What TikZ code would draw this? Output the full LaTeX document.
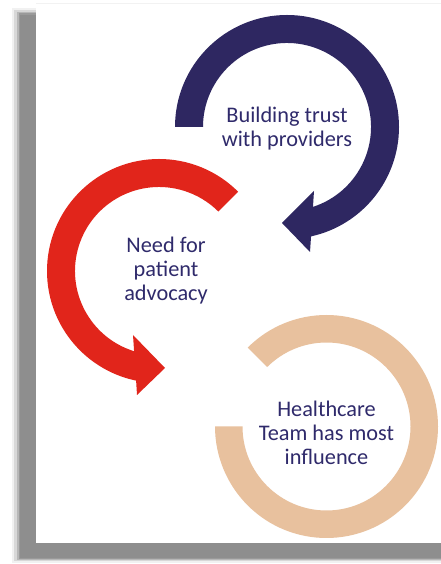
\documentclass[tikz,border=0pt]{standalone}
\usepackage{fontspec}
\setmainfont{Carlito}
\definecolor{arcblue}{HTML}{2E2761}
\definecolor{arcred}{HTML}{E1251B}
\definecolor{arctan}{HTML}{E8C19E}
\definecolor{labelc}{HTML}{2F2A6B}
\definecolor{shadowc}{HTML}{8E8E8E}
\begin{document}
\begin{tikzpicture}[x=1pt,y=1pt,
  label/.style={align=center,inner sep=0pt,anchor=base,text=labelc,
    font=\fontsize{22.3}{24.2}\selectfont}]
\useasboundingbox (0,0) rectangle (441,564);
% shadow with soft edges
\fill[shadowc,opacity=0.12] (12,1) rectangle (441,556);
\fill[shadowc,opacity=0.25] (14,2.5) rectangle (441,554);
\fill[shadowc,opacity=0.45] (16.5,4) rectangle (441,552);
\fill[shadowc,opacity=0.7] (18.5,5) rectangle (441,550.5);
\fill[shadowc] (20,6) rectangle (441,549);
% page
\fill[white] (36,20.5) rectangle (441,560);
\draw[gray!10,line width=0.8pt] (36,560.4) -- (441,560.4);
% centres
\coordinate (B) at (287,437);
\coordinate (R) at (159,293);
\coordinate (T) at (326.5,137.5);
% blue circular arrow
\fill[arcblue] ([shift={(180:112)}]B) arc[start angle=180,end angle=-77.6,radius=112]
  -- (310,312) -- (282,341) -- (314,373)
  -- ([shift={(-72:84)}]B) arc[start angle=-72,end angle=180,radius=84] -- cycle;
% red circular arrow
\fill[arcred] ([shift={(45:112)}]R) arc[start angle=45,end angle=258.2,radius=112]
  -- (137,169) -- (165,196) -- (133,229)
  -- ([shift={(252.75:84)}]R) arc[start angle=252.75,end angle=45,radius=84] -- cycle;
% tan ring
\fill[arctan] ([shift={(135:111.5)}]T) arc[start angle=135,end angle=-180,radius=111.5]
  -- ([shift={(180:84)}]T) arc[start angle=-180,end angle=135,radius=84] -- cycle;
% labels (anchor base = baseline of the last line)
\node[label] (trust) at (287,417.5) {Building trust\\with providers};
\node[label] (advocacy) at (166,263.5) {Need for\\patient\\advocacy};
\node[label] (team) at (326.5,99) {Healthcare\\Team has most\\influence};
\end{tikzpicture}
\end{document}
